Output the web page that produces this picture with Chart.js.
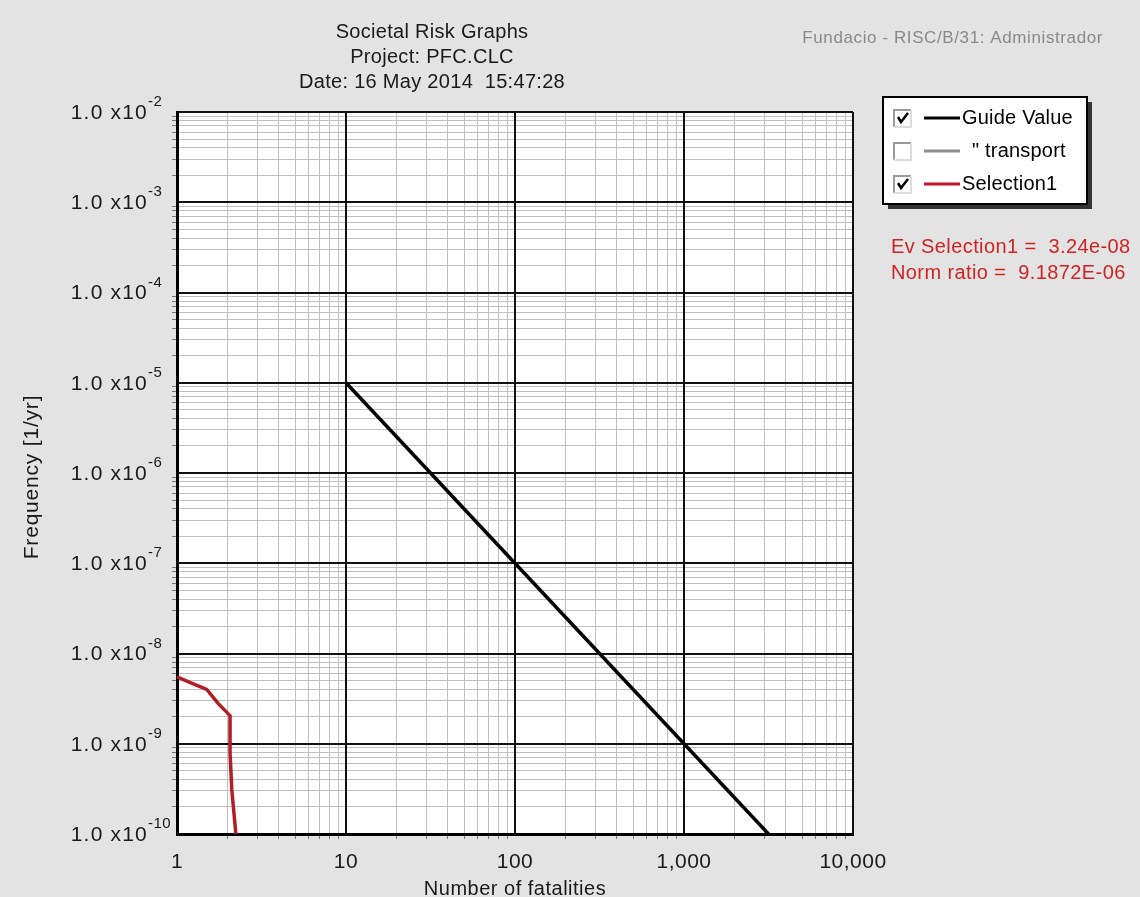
<!DOCTYPE html>
<html>
<head>
<meta charset="utf-8">
<script src="https://cdn.jsdelivr.net/npm/chart.js@4.4.1/dist/chart.umd.min.js"></script>
<style>
  html, body { margin: 0; padding: 0; background: #e3e3e3; }
  #wrap { width: 1140px; height: 897px; }
</style>
</head>
<body>
<div id="wrap"><canvas id="chart" width="1140" height="897"></canvas></div>
<script>
// values
const titleLines = ["Societal Risk Graphs", "Project: PFC.CLC", "Date: 16 May 2014  15:47:28"];
const userText = "Fundacio - RISC/B/31: Administrador";

const guideX = [10, 3162];
const guideY = [1e-5, 1e-10];

const selX = [1, 1.19, 1.5, 1.75, 2.06, 2.06, 2.11, 2.23];
const selY = [5.5e-9, 4.8e-9, 4.0e-9, 2.8e-9, 2.05e-9, 7.9e-10, 3.1e-10, 1e-10];

const xTickValues = [1, 10, 100, 1000, 10000];
const xTickLabels = ["1", "10", "100", "1,000", "10,000"];
const yTickValues = [1e-2, 1e-3, 1e-4, 1e-5, 1e-6, 1e-7, 1e-8, 1e-9, 1e-10];
const yTickExp = ["-2", "-3", "-4", "-5", "-6", "-7", "-8", "-9", "-10"];

const legendNames = ["Guide Value", "\" transport", "Selection1"];
const legendColors = ["#000000", "#8c8c8c", "#c8102e"];
const legendChecked = [true, false, true];

const infoLines = ["Ev Selection1 =  3.24e-08", "Norm ratio =  9.1872E-06"];

const FONT = "'Liberation Sans', Arial, sans-serif";

// grid lines 1..9 in every decade
function decadeGrid(lo, hi) {
  let out = [];
  for (let e = lo; e < hi; e++) {
    for (let m = 2; m < 10; m++) out.push(Number((m * Math.pow(10, e)).toPrecision(3)));
  }
  return out;
}

let chartDecor = {
  id: "chartDecor",
  beforeDraw(chart) {
    const c = chart.ctx, a = chart.chartArea;
    c.save();
    c.fillStyle = "#e3e3e3";
    c.fillRect(0, 0, chart.width, chart.height);
    c.fillStyle = "#ffffff";
    c.fillRect(a.left, a.top, a.right - a.left, a.bottom - a.top);
    c.restore();
  },
  afterDraw(chart) {
    const c = chart.ctx;
    const xs = chart.scales.x, ys = chart.scales.y;
    c.save();
    c.fillStyle = "#1a1a1a";

    // title
    c.font = `20px ${FONT}`;
    c.letterSpacing = "0.3px";
    c.textAlign = "center";
    c.textBaseline = "middle";
    titleLines.forEach((t, i) => c.fillText(t, 432, 32 + i * 25));

    // user text top right
    c.fillStyle = "#8a8a8a";
    c.font = `17px ${FONT}`;
    c.letterSpacing = "0.6px";
    c.textAlign = "right";
    c.fillText(userText, 1103, 38);

    // x tick labels
    c.fillStyle = "#1a1a1a";
    c.font = `21px ${FONT}`;
    c.letterSpacing = "0.5px";
    c.textAlign = "center";
    xTickValues.forEach((v, i) => c.fillText(xTickLabels[i], xs.getPixelForValue(v), 862));

    // x axis title
    c.font = `20px ${FONT}`;
    c.letterSpacing = "0.5px";
    c.fillText("Number of fatalities", (xs.left + xs.right) / 2, 889);

    // y tick labels with superscript exponent
    yTickValues.forEach((v, i) => {
      const py = ys.getPixelForValue(v);
      c.font = `21px ${FONT}`;
      c.letterSpacing = "1.2px";
      c.textAlign = "right";
      c.textBaseline = "middle";
      c.fillText("1.0 x10", 148, py + 1);
      c.font = `15px ${FONT}`;
      c.letterSpacing = "0.5px";
      c.textAlign = "left";
      c.textBaseline = "alphabetic";
      c.fillText(yTickExp[i], 148, py - 6);
    });

    // y axis title
    c.save();
    c.translate(32, 477);
    c.rotate(-Math.PI / 2);
    c.font = `21px ${FONT}`;
    c.letterSpacing = "0.8px";
    c.textAlign = "center";
    c.textBaseline = "middle";
    c.fillText("Frequency [1/yr]", 0, 0);
    c.restore();

    // legend box
    const bx = 883, by = 97, bw = 204, bh = 107;
    c.fillStyle = "#333333";
    c.fillRect(bx + 5, by + 5, bw, bh);
    c.fillStyle = "#ffffff";
    c.fillRect(bx, by, bw, bh);
    c.strokeStyle = "#000000";
    c.lineWidth = 2;
    c.strokeRect(bx, by, bw, bh);

    legendNames.forEach((name, i) => {
      const cy = 118 + i * 33;
      // checkbox
      c.fillStyle = "#ffffff";
      c.fillRect(894, cy - 8, 17, 17);
      c.strokeStyle = "#9a9a9a";
      c.lineWidth = 2;
      c.beginPath();
      c.moveTo(894, cy + 9); c.lineTo(894, cy - 8); c.lineTo(911, cy - 8);
      c.stroke();
      c.strokeStyle = "#dcdcdc";
      c.beginPath();
      c.moveTo(911, cy - 8); c.lineTo(911, cy + 9); c.lineTo(894, cy + 9);
      c.stroke();
      if (legendChecked[i]) {
        c.strokeStyle = "#000000";
        c.lineWidth = 2.5;
        c.beginPath();
        c.moveTo(898, cy - 1); c.lineTo(901, cy + 4); c.lineTo(908, cy - 5);
        c.stroke();
      }
      // line sample
      c.strokeStyle = legendColors[i];
      c.lineWidth = 3;
      c.beginPath();
      c.moveTo(924, cy); c.lineTo(960, cy);
      c.stroke();
      c.fillStyle = "#000000";
      c.font = `20px ${FONT}`;
      c.letterSpacing = "0.2px";
      c.textAlign = "left";
      c.textBaseline = "middle";
      c.fillText(name, i === 1 ? 972 : 962, cy);
    });

    // info text
    c.fillStyle = "#d02424";
    c.font = `20px ${FONT}`;
    c.letterSpacing = "0.4px";
    c.textAlign = "left";
    c.textBaseline = "middle";
    infoLines.forEach((t, i) => c.fillText(t, 891, 247 + i * 26));

    c.restore();
  },
};

const minorGrid = { color: "#c0c0c0", lineWidth: 1, drawTicks: true, tickLength: 5, tickColor: "#777777", tickWidth: 1, z: -2 };
const majorGrid = { color: "#111111", lineWidth: 2, drawTicks: false, z: -1 };

new Chart(document.getElementById("chart"), {
  type: "line",
  data: {
    datasets: [
      {
        label: legendNames[0],
        data: guideX.map((x, i) => ({ x: x, y: guideY[i] })),
        borderColor: legendColors[0],
        borderWidth: 3.5,
        pointRadius: 0,
      },
      {
        label: legendNames[2],
        data: selX.map((x, i) => ({ x: x, y: selY[i] })),
        borderColor: "#b01e26",
        borderWidth: 3.5,
        pointRadius: 0,
      },
    ],
  },
  options: {
    responsive: false,
    animation: false,
    layout: { padding: { left: 172, top: 112, right: 287, bottom: 58 } },
    plugins: { legend: { display: false }, tooltip: { enabled: false }, title: { display: false } },
    scales: {
      x: {
        type: "logarithmic",
        min: 1,
        max: 10000,
        afterBuildTicks: (axis) => { axis.ticks = decadeGrid(0, 4).map((v) => ({ value: v })); },
        ticks: { display: false },
        grid: minorGrid,
        border: { display: true, color: "#000000", width: 3 },
      },
      xMajor: {
        type: "logarithmic",
        position: "bottom",
        min: 1,
        max: 10000,
        afterBuildTicks: (axis) => { axis.ticks = xTickValues.map((v) => ({ value: v })); },
        ticks: { display: false },
        grid: majorGrid,
        border: { display: false },
      },
      y: {
        type: "logarithmic",
        min: 1e-10,
        max: 1e-2,
        afterBuildTicks: (axis) => { axis.ticks = decadeGrid(-10, -2).map((v) => ({ value: v })); },
        ticks: { display: false },
        grid: minorGrid,
        border: { display: true, color: "#000000", width: 3 },
      },
      yMajor: {
        type: "logarithmic",
        position: "left",
        min: 1e-10,
        max: 1e-2,
        afterBuildTicks: (axis) => { axis.ticks = yTickValues.map((v) => ({ value: v })); },
        ticks: { display: false },
        grid: majorGrid,
        border: { display: false },
      },
    },
  },
  plugins: [chartDecor],
});
</script>
</body>
</html>
